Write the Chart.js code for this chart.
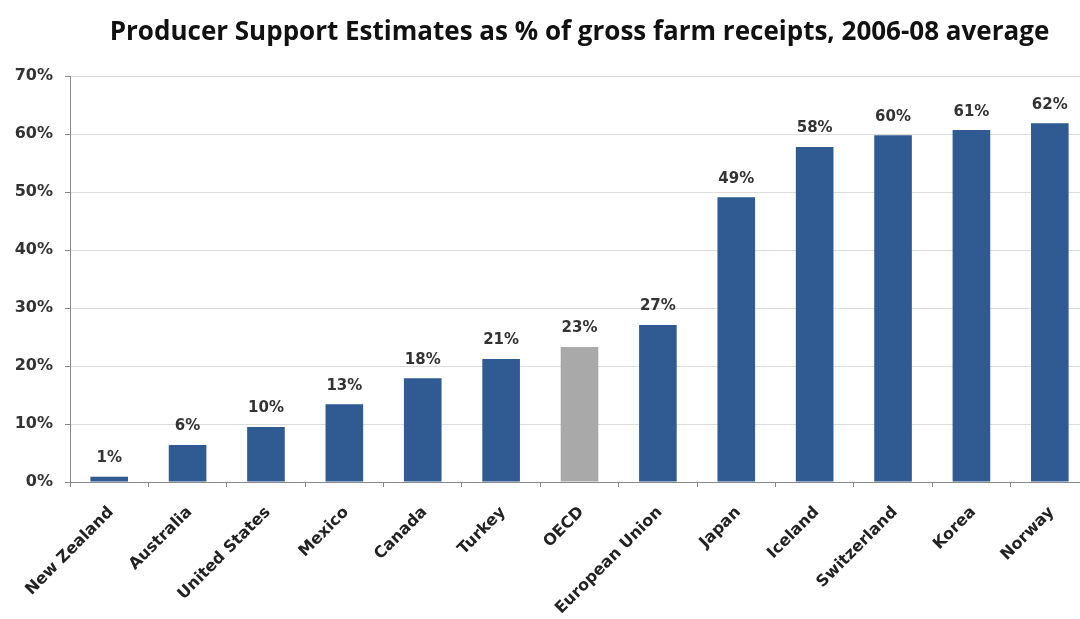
<!DOCTYPE html>
<html>
<head>
<meta charset="utf-8">
<script src="https://cdn.jsdelivr.net/npm/chart.js@4.4.0/dist/chart.umd.min.js"></script>
<style>
  html, body { margin: 0; padding: 0; background: #fff; overflow: hidden; }
  /* the original plot runs a few pixels past the right edge of the picture */
  #wrap { width: 1089px; height: 619px; position: relative; }
</style>
</head>
<body>
<div id="wrap"><canvas id="pseChart"></canvas></div>
<script>
const countries = ['New Zealand', 'Australia', 'United States', 'Mexico', 'Canada', 'Turkey', 'OECD',
    'European Union', 'Japan', 'Iceland', 'Switzerland', 'Korea', 'Norway'];
const pseValues = [0.9, 6.4, 9.5, 13.4, 17.9, 21.2, 23.3, 27.1, 49.1, 57.8, 59.8, 60.7, 61.9];
const pseLabels = ['1%', '6%', '10%', '13%', '18%', '21%', '23%', '27%', '49%', '58%', '60%', '61%', '62%'];
const yTicks = [0, 10, 20, 30, 40, 50, 60, 70];

const barBlue = '#2f5a92';
const oecdGrey = '#a9a9a9';
const labelFont = '"DejaVu Sans", Verdana, sans-serif';

// value labels above each bar
const valueLabels = {
    id: 'valueLabels',
    afterDatasetsDraw(chart) {
        const ctx = chart.ctx;
        const meta = chart.getDatasetMeta(0);
        ctx.save();
        ctx.font = 'bold 15px ' + labelFont;
        ctx.fillStyle = '#333';
        ctx.textAlign = 'center';
        ctx.textBaseline = 'bottom';
        meta.data.forEach((bar, i) => {
            ctx.fillText(pseLabels[i], bar.x, bar.y - 11);
        });
        ctx.restore();
    }
};

const ctx = document.getElementById('pseChart').getContext('2d');
new Chart(ctx, {
    type: 'bar',
    data: {
        labels: countries,
        datasets: [{
            data: pseValues,
            backgroundColor: countries.map(c => c === 'OECD' ? oecdGrey : barBlue),
            categoryPercentage: 1,
            barPercentage: 0.48
        }]
    },
    options: {
        responsive: true,
        maintainAspectRatio: false,
        animation: false,
        layout: { padding: 0 },
        plugins: {
            legend: { display: false },
            tooltip: { enabled: false },
            title: {
                display: true,
                fullSize: false,
                text: 'Producer Support Estimates as % of gross farm receipts, 2006-08 average',
                color: '#111',
                font: { family: '"Open Sans", Lato, sans-serif', size: 26, weight: 'bold', lineHeight: 1.2 },
                padding: { top: 17, bottom: 28 }
            }
        },
        scales: {
            x: {
                grid: { display: true, drawOnChartArea: false, offset: true, tickLength: 5, color: '#888' },
                border: { color: '#888' },
                ticks: {
                    autoSkip: false,
                    maxRotation: 45,
                    minRotation: 45,
                    labelOffset: 2,
                    padding: 16,
                    color: '#222',
                    font: { family: labelFont, size: 16, weight: 'bold' }
                },
                afterFit(scale) { scale.height = 137; }
            },
            y: {
                min: 0,
                max: 70,
                afterBuildTicks(scale) { scale.ticks = yTicks.map(v => ({ value: v })); },
                grid: { color: '#dcdcdc', tickLength: 5, tickColor: '#888' },
                border: { color: '#888' },
                ticks: {
                    padding: 12,
                    color: '#333',
                    font: { family: labelFont, size: 16, weight: 'bold' },
                    callback: v => v + '%'
                },
                afterFit(scale) { scale.width = 70; }
            }
        }
    },
    plugins: [valueLabels]
});
</script>
</body>
</html>
